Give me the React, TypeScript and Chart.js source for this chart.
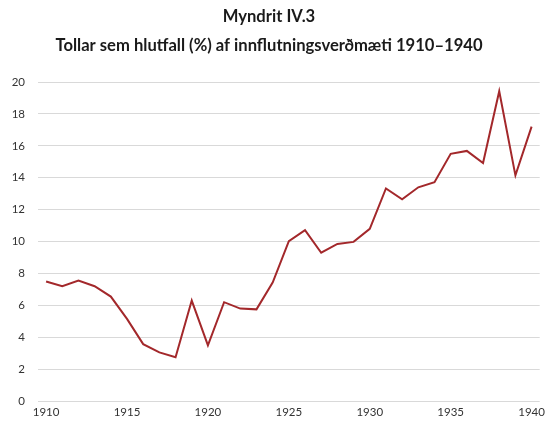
import React, { useEffect, useRef } from "react";
import { Chart, registerables } from "chart.js";

Chart.register(...registerables);

const years: string[] = [
  "1910", "1911", "1912", "1913", "1914", "1915", "1916", "1917", "1918", "1919",
  "1920", "1921", "1922", "1923", "1924", "1925", "1926", "1927", "1928", "1929",
  "1930", "1931", "1932", "1933", "1934", "1935", "1936", "1937", "1938", "1939", "1940",
];
const tollar: number[] = [
  7.5, 7.2, 7.55, 7.2, 6.55, 5.15, 3.57, 3.05, 2.75, 6.3,
  3.5, 6.2, 5.8, 5.75, 7.43, 10.03, 10.72, 9.3, 9.85, 9.98,
  10.8, 13.33, 12.65, 13.4, 13.72, 15.5, 15.68, 14.92, 19.42, 14.15, 17.2,
];
const shownYears: string[] = ["1910", "1915", "1920", "1925", "1930", "1935", "1940"];
const titleLines: string[] = [
  "Myndrit IV.3",
  "Tollar sem hlutfall (%) af innflutningsverðmæti 1910–1940",
];

const titlePlugin = {
  id: "twoLineTitle",
  afterDraw(chart: any) {
    const ctx = chart.ctx;
    ctx.save();
    ctx.fillStyle = "#1a1a1a";
    ctx.font = "bold 16.6px Lato";
    ctx.textAlign = "center";
    ctx.textBaseline = "middle";
    ctx.fillText(titleLines[0], 269, 17);
    ctx.fillText(titleLines[1], 269, 46);
    ctx.restore();
  },
};

export default function App() {
  const ref = useRef<HTMLCanvasElement | null>(null);
  useEffect(() => {
    if (!ref.current) return;
    const chart = new Chart(ref.current, {
      type: "line",
      data: {
        labels: years,
        datasets: [
          {
            data: tollar,
            borderColor: "#a3282b",
            borderWidth: 2,
            pointRadius: 0,
            tension: 0,
            fill: false,
          },
        ],
      },
      options: {
        responsive: false,
        animation: false,
        layout: { padding: { top: 82, left: 12, right: 4, bottom: 2 } },
        plugins: { legend: { display: false }, title: { display: false }, tooltip: { enabled: false } },
        scales: {
          x: {
            type: "category",
            offset: true,
            grid: { display: false, drawTicks: false },
            border: { display: false },
            afterFit: (s: any) => { s.height = 17; },
            ticks: {
              autoSkip: false,
              maxRotation: 0,
              padding: 4,
              color: "#333333",
              font: { family: "Lato", size: 11.5 },
              callback: function (this: any, value: any) {
                const lbl = years[value as number];
                return shownYears.includes(lbl) ? lbl : "";
              },
            },
          },
          y: {
            min: 0,
            max: 20,
            grid: { color: "#d9d9d9", lineWidth: 1, drawTicks: false },
            border: { display: false },
            afterFit: (s: any) => { s.width = 26; },
            ticks: {
              stepSize: 2,
              padding: 13,
              color: "#333333",
              font: { family: "Lato", size: 11.5 },
            },
          },
        },
      },
      plugins: [titlePlugin],
    });
    return () => chart.destroy();
  }, []);
  return (
    <div style={{ position: "fixed", left: 0, top: 0, width: 549, height: 421, background: "#fff" }}>
      <canvas ref={ref} width={549} height={421} />
    </div>
  );
}
